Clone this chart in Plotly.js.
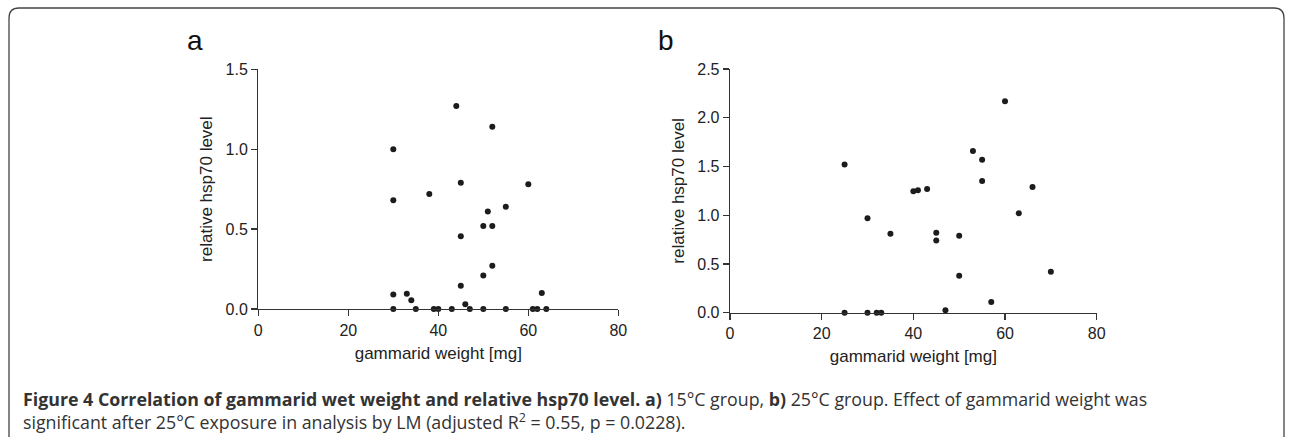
<!DOCTYPE html>
<html>
<head>
<meta charset="utf-8">
<script src="https://cdn.plot.ly/plotly-3.0.1.min.js"></script>
<style>html,body{margin:0;padding:0;background:#fff;}#chart{width:1290px;height:437px;}</style>
</head>
<body>
<div id="chart"></div>
<script>
// Panel a: 15°C group
const weightA = [30,30,30,30,33,34,35,38,39,40,43,44,45,45,45,46,47,50,50,50,51,52,52,52,55,55,60,61,62,63,64];
const hspA    = [1.0,0.68,0.09,0,0.095,0.055,0,0.72,0,0,0,1.27,0.79,0.455,0.145,0.03,0,0.52,0.21,0,0.61,1.14,0.52,0.27,0.64,0,0.78,0,0,0.1,0];
// Panel b: 25°C group
const weightB = [25,25,30,30,32,33,35,40,41,43,45,45,47,50,50,53,55,55,57,60,63,66,70];
const hspB    = [1.52,0,0.97,0,0,0,0.81,1.245,1.255,1.27,0.82,0.74,0.025,0.79,0.38,1.66,1.57,1.35,0.11,2.17,1.02,1.29,0.42];

const xTicks = [0,20,40,60,80];
const yTicksA = [0,0.5,1.0,1.5];
const yTicksB = [0,0.5,1.0,1.5,2.0,2.5];

const W = 1290, H = 437;
const px = v => v / W;
const py = v => 1 - v / H;

const markerStyle = {color:'#1c1c1c', size:6};
const traces = [
  {x: weightA, y: hspA, type:'scatter', mode:'markers', marker: markerStyle, xaxis:'x', yaxis:'y', cliponaxis:false, hoverinfo:'x+y'},
  {x: weightB, y: hspB, type:'scatter', mode:'markers', marker: markerStyle, xaxis:'x2', yaxis:'y2', cliponaxis:false, hoverinfo:'x+y'}
];

const tickFont = {family:'Liberation Sans, Arial, sans-serif', size:16, color:'#222'};
const titleFont = {family:'Liberation Sans, Arial, sans-serif', size:17, color:'#222'};
const axisBase = {
  showgrid:false, zeroline:false, showline:true, linecolor:'#333', linewidth:1.3,
  ticks:'outside', ticklen:6, tickwidth:1.3, tickcolor:'#333', tickfont: tickFont,
  fixedrange:true
};

const xA = Object.assign({}, axisBase, {domain:[px(258.3), px(618.3)], range:[0,80], tickvals:xTicks, ticktext:xTicks.map(String), anchor:'y',
  title:{text:'gammarid weight [mg]', font:titleFont, standoff:9}});
const yA = Object.assign({}, axisBase, {domain:[py(309), py(69.3)], range:[0,1.5], tickvals:yTicksA, ticktext:yTicksA.map(v=>v.toFixed(1)), anchor:'x',
  title:{text:'relative hsp70 level', font:titleFont, standoff:8}});
const xB = Object.assign({}, axisBase, {domain:[px(730), px(1096.7)], range:[0,80], tickvals:xTicks, ticktext:xTicks.map(String), anchor:'y2',
  title:{text:'gammarid weight [mg]', font:titleFont, standoff:9}});
const yB = Object.assign({}, axisBase, {domain:[py(312.7), py(69)], range:[0,2.5], tickvals:yTicksB, ticktext:yTicksB.map(v=>v.toFixed(1)), anchor:'x2',
  title:{text:'relative hsp70 level', font:titleFont, standoff:8}});

const capFont = {family:'Open Sans, Noto Sans, sans-serif', size:17.8, color:'#333'};
const annotations = [
  {text:'a', x:px(195), y:py(40), xref:'paper', yref:'paper', showarrow:false, xanchor:'center', yanchor:'middle', font:{family:'Liberation Sans, Arial, sans-serif', size:28, color:'#111'}},
  {text:'b', x:px(666), y:py(40), xref:'paper', yref:'paper', showarrow:false, xanchor:'center', yanchor:'middle', font:{family:'Liberation Sans, Arial, sans-serif', size:28, color:'#111'}},
  {text:'<b>Figure 4 Correlation of gammarid wet weight and relative hsp70 level. a)</b> 15°C group, <b>b)</b> 25°C group. Effect of gammarid weight was' +
        '<br>significant after 25°C exposure in analysis by LM (adjusted R<sup>2</sup> = 0.55, p = 0.0228).',
   x:px(21), y:py(410), xref:'paper', yref:'paper', showarrow:false, xanchor:'left', yanchor:'middle', align:'left', font:capFont}
];

const fx0 = px(9), fx1 = px(1284), fTop = py(8), fdx = px(10), fdy = 10 / H;
const framePath = `M ${fx0},-0.05 L ${fx0},${fTop-fdy} Q ${fx0},${fTop} ${fx0+fdx},${fTop} L ${fx1-fdx},${fTop} Q ${fx1},${fTop} ${fx1},${fTop-fdy} L ${fx1},-0.05`;

const layout = {
  width: W, height: H,
  margin:{l:0, r:0, t:0, b:0},
  paper_bgcolor:'#fff', plot_bgcolor:'#fff',
  showlegend:false,
  xaxis: xA, yaxis: yA, xaxis2: xB, yaxis2: yB,
  annotations: annotations,
  shapes:[{type:'path', path: framePath, xref:'paper', yref:'paper', line:{color:'#444', width:1.3}}]
};

Plotly.newPlot('chart', traces, layout, {displayModeBar:false, staticPlot:true});
</script>
</body>
</html>
